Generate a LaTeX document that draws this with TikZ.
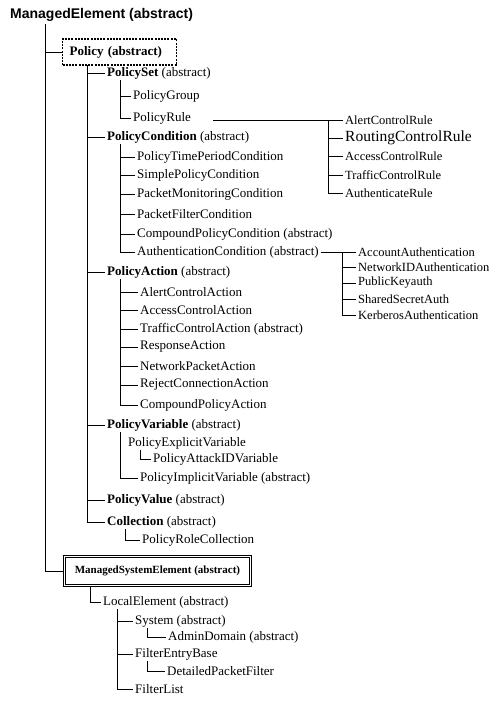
\documentclass[tikz,border=0pt]{standalone}
\usepackage{fontspec}
\setmainfont{Liberation Serif}
\newfontfamily\titlefont{Liberation Sans}
\begin{document}
\begin{tikzpicture}[x=1pt,y=-1pt,
  txt/.style={anchor=west, inner xsep=2pt, inner ysep=1pt, font=\fontsize{13}{15}\selectfont},
  rtxt/.style={txt, font=\fontsize{12.5}{15}\selectfont},
  bigtxt/.style={txt, font=\fontsize{15.5}{17}\selectfont},
  ln/.style={line width=0.8pt, black},
  pbox/.style={draw, anchor=west, dash pattern=on 2pt off 1.2pt, line width=1.2pt, fill=white,
    minimum height=26pt, text width=100pt, inner xsep=7pt, align=left,
    font=\fontsize{13}{15}\selectfont\bfseries},
  msebox/.style={draw, double, double distance=1pt, line width=0.9pt, anchor=west, fill=white,
    minimum height=29pt, minimum width=186pt, inner xsep=6pt,
    font=\fontsize{11}{14}\selectfont\bfseries}
]
\useasboundingbox (0,0) rectangle (500,702);
\fill[white] (0,0) rectangle (500,702);

% title
\node[anchor=west, inner sep=0pt, font=\titlefont\bfseries\fontsize{14}{16}\selectfont] (me) at (10,15) {ManagedElement (abstract)};

% boxes
\node[pbox] (policy) at (62,52) {Policy (abstract)};
\node[msebox] (mse) at (64,571) {ManagedSystemElement (abstract)};

% Policy children
\node[txt] (set) at (105,73) {\textbf{PolicySet} (abstract)};
\node[txt] (group) at (131,96) {PolicyGroup};
\node[txt] (rule) at (131,118) {PolicyRule};
\node[txt] (cond) at (105,137) {\textbf{PolicyCondition} (abstract)};
\node[txt] (c1) at (135,157) {PolicyTimePeriodCondition};
\node[txt] (c2) at (135,175) {SimplePolicyCondition};
\node[txt] (c3) at (135,194) {PacketMonitoringCondition};
\node[txt] (c4) at (135,214) {PacketFilterCondition};
\node[txt] (c5) at (135,234) {CompoundPolicyCondition (abstract)};
\node[txt] (c6) at (135,252) {AuthenticationCondition (abstract)};
\node[txt] (action) at (105,272) {\textbf{PolicyAction} (abstract)};
\node[txt] (a1) at (138,292) {AlertControlAction};
\node[txt] (a2) at (138,310) {AccessControlAction};
\node[txt] (a3) at (138,329) {TrafficControlAction (abstract)};
\node[txt] (a4) at (138,347) {ResponseAction};
\node[txt] (a5) at (138,366) {NetworkPacketAction};
\node[txt] (a6) at (138,385) {RejectConnectionAction};
\node[txt] (a7) at (138,405) {CompoundPolicyAction};
\node[txt] (var) at (105,425) {\textbf{PolicyVariable} (abstract)};
\node[txt] (expl) at (126,443) {PolicyExplicitVariable};
\node[txt] (attack) at (151,459) {PolicyAttackIDVariable};
\node[txt] (impl) at (138,478) {PolicyImplicitVariable (abstract)};
\node[txt] (value) at (105,500) {\textbf{PolicyValue} (abstract)};
\node[txt] (coll) at (105,522) {\textbf{Collection} (abstract)};
\node[txt] (rolecoll) at (140,540) {PolicyRoleCollection};

% rule column
\node[rtxt] (r1) at (343,120) {AlertControlRule};
\node[bigtxt] (r2) at (343,138) {RoutingControlRule};
\node[rtxt] (r3) at (343,156) {AccessControlRule};
\node[rtxt] (r4) at (343,175) {TrafficControlRule};
\node[rtxt] (r5) at (343,193) {AuthenticateRule};

% authentication column
\node[rtxt] (u1) at (356,252) {AccountAuthentication};
\node[rtxt] (u2) at (356,267) {NetworkIDAuthentication};
\node[rtxt] (u3) at (356,283) {PublicKeyauth};
\node[rtxt] (u4) at (356,299) {SharedSecretAuth};
\node[rtxt] (u5) at (356,315) {KerberosAuthentication};

% ManagedSystemElement subtree
\node[txt] (local) at (101,602) {LocalElement (abstract)};
\node[txt] (sys) at (133,621) {System (abstract)};
\node[txt] (admin) at (166,637) {AdminDomain (abstract)};
\node[txt] (feb) at (133,654) {FilterEntryBase};
\node[txt] (dpf) at (165,671) {DetailedPacketFilter};
\node[txt] (flist) at (133,689) {FilterList};

% connectors
\coordinate (m0) at (45,24);
\draw[ln] (m0) |- (mse.west);
\draw[ln] (m0 |- policy.west) -- (policy.west);

\coordinate (p0) at (87,65);
\draw[ln] (p0) |- (coll.west);
\foreach \n in {set,cond,action,var,value} \draw[ln] (p0 |- \n.west) -- (\n.west);

\coordinate (s0) at (120,80);
\draw[ln] (s0) |- (rule.west);
\draw[ln] (s0 |- group.west) -- (group.west);

\coordinate (c0) at (120,144);
\draw[ln] (c0) |- (c6.west);
\foreach \n in {c1,c2,c3,c4,c5} \draw[ln] (c0 |- \n.west) -- (\n.west);

\coordinate (a0) at (120,279);
\draw[ln] (a0) |- (a7.west);
\foreach \n in {a1,a2,a3,a4,a5,a6} \draw[ln] (a0 |- \n.west) -- (\n.west);

\coordinate (v0) at (120,432);
\draw[ln] (v0) |- (impl.west);
\coordinate (e0) at (140,450);
\draw[ln] (e0) |- (attack.west);

\coordinate (k0) at (125,529);
\draw[ln] (k0) |- (rolecoll.west);

\coordinate (rl) at (213,120);
\draw[ln] (rl) -- (r1.west);
\coordinate (r0) at (328,120);
\draw[ln] (r0) |- (r5.west);
\foreach \n in {r2,r3,r4} \draw[ln] (r0 |- \n.west) -- (\n.west);

\coordinate (u0) at (342,252);
\draw[ln] (c6.east) -- (u1.west);
\draw[ln] (u0) |- (u5.west);
\foreach \n in {u2,u3,u4} \draw[ln] (u0 |- \n.west) -- (\n.west);

\coordinate (ms0) at (90,586);
\draw[ln] (ms0) |- (local.west);
\coordinate (l0) at (117,609);
\draw[ln] (l0) |- (flist.west);
\foreach \n in {sys,feb} \draw[ln] (l0 |- \n.west) -- (\n.west);
\coordinate (y0) at (147,628);
\draw[ln] (y0) |- (admin.west);
\coordinate (f0) at (147,661);
\draw[ln] (f0) |- (dpf.west);
\end{tikzpicture}
\end{document}
